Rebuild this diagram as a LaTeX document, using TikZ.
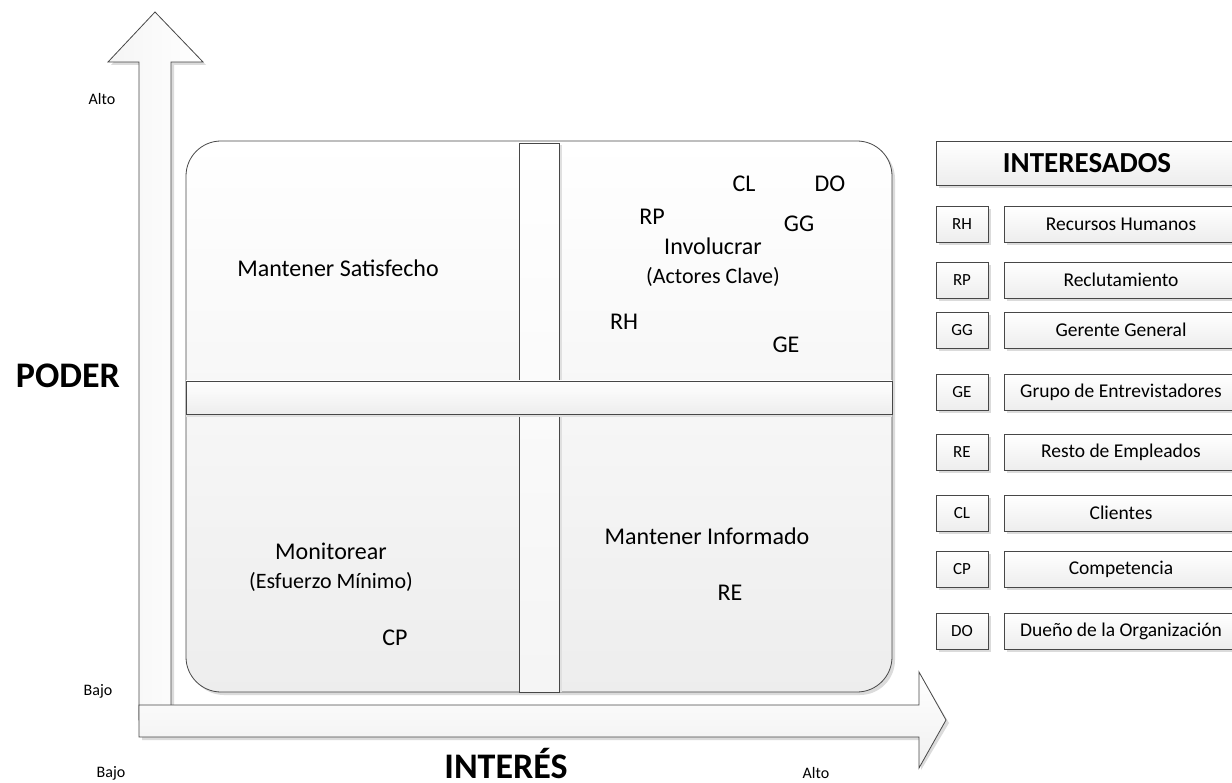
\documentclass[tikz,border=0pt]{standalone}
\usepackage{fontspec}
\setmainfont{Carlito}
\begin{document}
\begin{tikzpicture}[x=1pt,y=-1pt,
  outline/.style={draw=black!72, line width=0.8pt},
  panel/.style={outline, top color=white, bottom color=black!7},
  shade/.style={fill=black!14},
  lbl/.style={font=\fontsize{24}{28}\selectfont, inner sep=0pt},
  sublbl/.style={font=\fontsize{22}{26}\selectfont, inner sep=0pt},
  tick/.style={font=\fontsize{16}{19}\selectfont, inner sep=0pt},
  axis/.style={font=\fontsize{36}{40}\selectfont\bfseries, inner sep=0pt},
  keybox/.style={panel, minimum width=52pt, minimum height=36pt, inner sep=0pt,
    font=\fontsize{17}{20}\selectfont},
  namebox/.style={panel, minimum width=234pt, minimum height=36pt, inner sep=0pt,
    font=\fontsize{19.5}{23}\selectfont}
]
\useasboundingbox (0,0) rectangle (1232,783);

% ---- vertical axis (PODER) ----
\fill[shade] (142,720) -- (142,65) -- (111,65) -- (158,15) -- (206,65) -- (174,65) -- (174,720) -- cycle;
\draw[outline, left color=black!4, right color=white]
  (139,720) -- (139,62) -- (108,62) -- (155,12) -- (203,62) -- (171,62) -- (171,720) -- cycle;

% ---- horizontal axis (INTERES) ----
\fill[shade] (142,708) -- (921,708) -- (921,675) -- (949,723) -- (921,770) -- (921,740) -- (142,740) -- cycle;
\draw[outline, top color=white, bottom color=black!6]
  (139,705) -- (919,705) -- (919,672) -- (946,720) -- (919,768) -- (919,737) -- (139,737) -- cycle;

% ---- quadrant panel ----
\fill[shade, rounded corners=35pt] (189,144) rectangle (895,695);
\draw[panel, rounded corners=35pt] (186,141) rectangle (892,692);
\fill[black!12] (559,145) rectangle (562,692);
\draw[outline, top color=white, bottom color=black!4] (519,143) rectangle (559,692);
\fill[black!12] (186,414) rectangle (892,417);
\draw[outline, top color=white, bottom color=black!7] (186,381) rectangle (892,414);

% ---- quadrant labels ----
\node[lbl] (sat) at (338,268) {Mantener Satisfecho};
\node[lbl] (inv) at (713,246) {Involucrar};
\node[sublbl] (invsub) at (713,277) {(Actores Clave)};
\node[lbl] (mon) at (331,551) {Monitorear};
\node[sublbl] (monsub) at (331,582) {(Esfuerzo Mínimo)};
\node[lbl] (inf) at (707,536) {Mantener Informado};

% ---- stakeholders placed on the grid ----
\node[lbl] (pCL) at (744,184) {CL};
\node[lbl] (pDO) at (830,184) {DO};
\node[lbl] (pRP) at (652,217) {RP};
\node[lbl] (pGG) at (799,224) {GG};
\node[lbl] (pRH) at (624,322) {RH};
\node[lbl] (pGE) at (786,345) {GE};
\node[lbl] (pCP) at (395,638) {CP};
\node[lbl] (pRE) at (730,593) {RE};

% ---- axis labels ----
\node[tick] (altoY) at (102,99) {Alto};
\node[tick] (bajoY) at (98,691) {Bajo};
\node[axis] (poder) at (68,376) {PODER};
\node[tick] (bajoX) at (111,773) {Bajo};
\node[tick] (altoX) at (816,773) {Alto};
\node[axis, anchor=base] (interes) at (506,778) {INTERÉS};

% ---- legend ----
\fill[shade] (939,144) rectangle (1241,188);
\node[panel, minimum width=302pt, minimum height=44pt, inner sep=0pt,
  font=\fontsize{29}{32}\selectfont\bfseries] (head) at (1087,163) {INTERESADOS};

\foreach \k/\name/\y in {RH/Recursos Humanos/224, RP/Reclutamiento/280,
    GG/Gerente General/330, GE/Grupo de Entrevistadores/392,
    RE/Resto de Empleados/452, CL/Clientes/513, CP/Competencia/569,
    DO/Dueño de la Organización/631}{
  \fill[shade] (939,\y-15) rectangle (991,\y+21);
  \fill[shade] (1007,\y-15) rectangle (1241,\y+21);
  \node[keybox] (k\k) at (962,\y) {\k};
  \node[namebox] (n\k) at (1121,\y) {\name};
}
\end{tikzpicture}
\end{document}
